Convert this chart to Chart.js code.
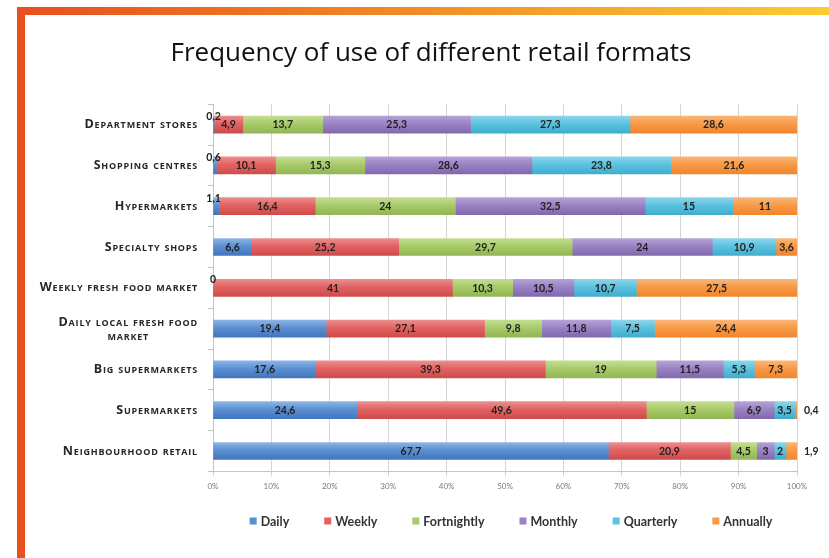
<!DOCTYPE html>
<html><head><meta charset="utf-8">
<script src="https://cdn.jsdelivr.net/npm/chart.js@4"></script>
<style>
html,body{margin:0;padding:0;background:#fff;}
#wrap{position:relative;width:829px;height:558px;overflow:hidden;background:#fff}
#topbar{position:absolute;left:17px;top:7px;width:812px;height:8px;background:linear-gradient(to right,#E84F1F,#EE7322 30%,#F5A02B 65%,#FCCB33);}
#leftbar{position:absolute;left:17px;top:7px;width:8px;height:551px;background:#E8501F;}
canvas{position:absolute;left:0;top:0}
</style></head>
<body><div id="wrap"><div id="topbar"></div><div id="leftbar"></div><canvas id="c" width="829" height="558"></canvas></div>
<script>
const categories = [
  ["Department stores"],
  ["Shopping centres"],
  ["Hypermarkets"],
  ["Specialty shops"],
  ["Weekly fresh food market"],
  ["Daily local fresh food", "market"],
  ["Big supermarkets"],
  ["Supermarkets"],
  ["Neighbourhood retail"]
];
const seriesNames = ["Daily", "Weekly", "Fortnightly", "Monthly", "Quarterly", "Annually"];
const daily       = [0.2, 0.6, 1.1, 6.6, 0, 19.4, 17.6, 24.6, 67.7];
const weekly      = [4.9, 10.1, 16.4, 25.2, 41, 27.1, 39.3, 49.6, 20.9];
const fortnightly = [13.7, 15.3, 24, 29.7, 10.3, 9.8, 19, 15, 4.5];
const monthly     = [25.3, 28.6, 32.5, 24, 10.5, 11.8, 11.5, 6.9, 3];
const quarterly   = [27.3, 23.8, 15, 10.9, 10.7, 7.5, 5.3, 3.5, 2];
const annually    = [28.6, 21.6, 11, 3.6, 27.5, 24.4, 7.3, 0.4, 1.9];
const xTicks = [0, 10, 20, 30, 40, 50, 60, 70, 80, 90, 100];

const palette = [
  {base:'#5B8FD2', light:'#8DB4E6', dark:'#4277BE'},
  {base:'#E26262', light:'#EC8E8E', dark:'#CE4B4B'},
  {base:'#A8CB69', light:'#C3DD93', dark:'#92B654'},
  {base:'#9A82C3', light:'#B5A2D8', dark:'#8169AC'},
  {base:'#5BC2E0', light:'#8DD5EA', dark:'#40ADCC'},
  {base:'#F89A46', light:'#FAB676', dark:'#F0862D'}
];
const allSeries = [daily, weekly, fortnightly, monthly, quarterly, annually];

const FONT = "Lato, 'Open Sans', sans-serif";
const FONT2 = "'Open Sans', Lato, sans-serif";

function gradFor(idx){
  return function(ctx){
    if (ctx.type !== 'data') return palette[idx].base;
    const chart = ctx.chart;
    const ys = chart.scales && chart.scales.y;
    if (!ys) return palette[idx].base;
    const y = ys.getPixelForValue(ctx.dataIndex);
    if (!isFinite(y)) return palette[idx].base;
    const g = chart.ctx.createLinearGradient(0, y - 8.5, 0, y + 8.5);
    g.addColorStop(0, palette[idx].light);
    g.addColorStop(0.45, palette[idx].base);
    g.addColorStop(1, palette[idx].dark);
    return g;
  };
}

const dataLabels = {
  id: 'dataLabels',
  afterDatasetsDraw(chart){
    const c = chart.ctx;
    c.save();
    c.font = "bold 10.5px " + FONT;
    c.fillStyle = '#222';
    chart.data.datasets.forEach((ds, di) => {
      const meta = chart.getDatasetMeta(di);
      meta.data.forEach((bar, i) => {
        const v = ds.data[i];
        const txt = String(v).replace('.', ',');
        const left = Math.min(bar.x, bar.base), right = Math.max(bar.x, bar.base);
        c.textBaseline = 'middle';
        if (v >= 2) {
          c.textAlign = 'center';
          c.fillText(txt, (left + right) / 2, bar.y + 0.5);
        } else if (di === 0) {
          c.textAlign = 'center';
          c.fillText(txt, left, bar.y - 8);
        } else {
          c.textAlign = 'left';
          c.fillText(txt, right + 7, bar.y + 0.5);
        }
      });
    });
    c.restore();
  }
};

const yLabels = {
  id: 'yLabels',
  afterDraw(chart){
    const c = chart.ctx;
    const ys = chart.scales.y;
    c.save();
    c.font = "small-caps bold 12.5px " + FONT2;
    if ('letterSpacing' in c) c.letterSpacing = '0.8px';
    c.fillStyle = '#262626';
    c.textBaseline = 'middle';
    categories.forEach((lines, i) => {
      const y = ys.getPixelForValue(i);
      const rightX = 198;
      if (lines.length === 1) {
        c.textAlign = 'right';
        c.fillText(lines[0], rightX, y);
      } else {
        const w = Math.max(...lines.map(l => c.measureText(l).width));
        const cx = rightX - w / 2;
        c.textAlign = 'center';
        const lh = 14;
        lines.forEach((l, k) => c.fillText(l, cx, y + 1 + (k - (lines.length - 1) / 2) * lh));
      }
    });
    c.restore();
  }
};

const legendPlugin = {
  id: 'customLegend',
  afterDraw(chart){
    const c = chart.ctx;
    c.save();
    c.font = "bold 12.5px " + FONT;
    c.textBaseline = 'middle';
    c.textAlign = 'left';
    const box = 7, gapBox = 4, gapItem = 35;
    const widths = seriesNames.map(n => box + gapBox + c.measureText(n).width);
    const total = widths.reduce((a, b) => a + b, 0) + gapItem * (seriesNames.length - 1);
    let x = 511 - total / 2;
    const y = 522;
    seriesNames.forEach((n, i) => {
      c.fillStyle = palette[i].base;
      c.fillRect(x, y - box / 2 - 1, box, box);
      c.fillStyle = '#333';
      c.fillText(n, x + box + gapBox, y);
      x += widths[i] + gapItem;
    });
    c.restore();
  }
};

new Chart(document.getElementById('c'), {
  type: 'bar',
  data: {
    labels: categories.map(l => l.join(' ')),
    datasets: allSeries.map((d, i) => ({
      label: seriesNames[i],
      data: d,
      backgroundColor: gradFor(i),
      borderWidth: 0,
      barThickness: 17
    }))
  },
  options: {
    indexAxis: 'y',
    responsive: false,
    animation: false,
    devicePixelRatio: 1,
    layout: { padding: { left: 65, right: 32, top: 0, bottom: 62 } },
    scales: {
      x: {
        stacked: true, min: 0, max: 100,
        afterBuildTicks(s){ s.ticks = xTicks.map(v => ({value: v})); },
        ticks: { callback: v => v + '%', font: { family: FONT, size: 8 }, color: '#7a7a7a', padding: 5, maxRotation: 0 },
        grid: { color: '#d5d5d5', tickLength: 5, lineWidth: 1 },
        border: { color: '#c4c4c4' }
      },
      y: {
        stacked: true,
        afterFit(s){ s.width = 148; },
        ticks: { display: false },
        grid: { drawOnChartArea: false, tickLength: 5, color: '#c4c4c4', offset: true },
        border: { color: '#c4c4c4' }
      }
    },
    plugins: {
      legend: { display: false },
      tooltip: { enabled: false },
      title: {
        display: true,
        text: 'Frequency of use of different retail formats',
        font: { family: FONT2, size: 26, weight: 'normal' },
        color: '#111',
        padding: { top: 37.5, bottom: 35.5 }
      }
    }
  },
  plugins: [dataLabels, yLabels, legendPlugin]
});
</script>
</body></html>
